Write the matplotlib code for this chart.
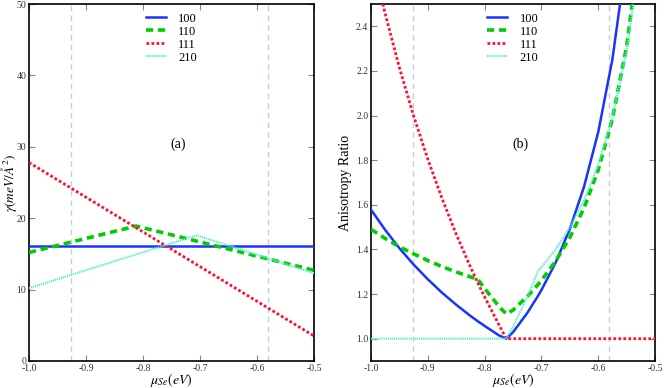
import numpy as np
import matplotlib
matplotlib.use('Agg')
import matplotlib.pyplot as plt

plt.rcParams['font.family'] = 'serif'
plt.rcParams['font.serif'] = ['Liberation Serif', 'DejaVu Serif']
plt.rcParams['mathtext.fontset'] = 'stix'

labels = ['100', '110', '111', '210']
colors = ['#1a33ff', '#00cc00', '#ff1030', '#55eec8']
styles = ['-', (0, (2.0, 1.3)), (0, (1.0, 0.8)), (0, (0.6, 0.4))]
widths = [1.8, 2.6, 2.0, 1.5]

# (a) surface energy vs chemical potential
mu_100 = [-1.0, -0.5]
g_100 = [16.1, 16.1]
mu_110 = [-1.0, -0.812, -0.5]
g_110 = [15.2, 18.9, 12.7]
mu_111 = [-1.0, -0.5]
g_111 = [27.8, 3.5]
mu_210 = [-1.0, -0.706, -0.5]
g_210 = [10.2, 17.6, 12.3]

# (b) anisotropy ratio
mu_b = [-1.0, -0.975, -0.95, -0.925, -0.9, -0.875, -0.85, -0.825, -0.812, -0.8,
        -0.775, -0.762, -0.75, -0.725, -0.706, -0.7, -0.675, -0.65, -0.625,
        -0.6, -0.575, -0.55, -0.525, -0.5]
r_100 = [1.578, 1.487, 1.405, 1.332, 1.266, 1.206, 1.152, 1.102, 1.078, 1.057,
         1.015, 1.0, 1.029, 1.115, 1.192, 1.218, 1.341, 1.492, 1.681,
         1.926, 2.253, 2.715, 3.41, 4.6]
r_110 = [1.490, 1.449, 1.412, 1.380, 1.350, 1.323, 1.299, 1.277, 1.266, 1.225,
         1.145, 1.111, 1.128, 1.189, 1.243, 1.261, 1.348, 1.453, 1.586,
         1.757, 1.986, 2.309, 2.799, 3.63]
r_111 = [2.725, 2.455, 2.214, 1.998, 1.804, 1.628, 1.468, 1.321, 1.250, 1.187,
         1.063, 1.0, 1.0, 1.0, 1.0, 1.0, 1.0, 1.0, 1.0,
         1.0, 1.0, 1.0, 1.0, 1.0]
r_210 = [1.0, 1.0, 1.0, 1.0, 1.0, 1.0, 1.0, 1.0, 1.0, 1.0,
         1.0, 1.0, 1.054, 1.186, 1.303, 1.320, 1.400, 1.498, 1.620,
         1.779, 1.991, 2.291, 2.745, 3.51]

vlines = [-0.927, -0.581]

fig = plt.figure(figsize=(6.65, 3.88), dpi=100)
ax1 = fig.add_axes([0.0436, 0.0696, 0.4286, 0.920])
ax2 = fig.add_axes([0.558, 0.0696, 0.427, 0.920])

curves_a = [(mu_100, g_100), (mu_110, g_110), (mu_111, g_111), (mu_210, g_210)]
curves_b = [(mu_b, r_100), (mu_b, r_110), (mu_b, r_111), (mu_b, r_210)]

for ax, curves in [(ax1, curves_a), (ax2, curves_b)]:
    for v in vlines:
        ax.axvline(v, color='#c5ced6', ls=(0, (4, 3)), lw=1.0, zorder=1)
    for (x, y), lab, c, s, w in zip(curves, labels, colors, styles, widths):
        ax.plot(x, y, color=c, ls=s, lw=w, label=lab, zorder=3)
    ax.set_xlim(-1.0, -0.5)
    ax.set_xticks(np.arange(-1.0, -0.49, 0.1))
    ax.xaxis.set_major_formatter(plt.FormatStrFormatter('%.1f'))
    ax.tick_params(direction='in', top=True, right=True, length=4, width=0.8,
                   color='#888888', labelsize=7, labelcolor='#333333', pad=2)
    for sp in ax.spines.values():
        sp.set_linewidth(1.2)
    ax.set_xlabel(r'$\mu_{Se}(eV)$', fontsize=10, labelpad=-1)
    leg = ax.legend(loc='upper center', bbox_to_anchor=(0.5, 1.0), frameon=False,
                    fontsize=9, handlelength=1.6, labelspacing=0.08, handletextpad=1.0,
                    borderaxespad=0.3)

ax1.set_ylim(0, 50)
ax1.set_yticks([0, 10, 20, 30, 40, 50])
ax1.set_ylabel(r'$\gamma(meV/\AA^2)$', fontsize=9.5)
ax1.yaxis.set_label_coords(-0.035, 0.5)
ax1.text(0.523, 0.608, '(a)', transform=ax1.transAxes, ha='center', va='center', fontsize=10)

ax2.set_ylim(0.9, 2.5)
ax2.set_yticks([1.0, 1.2, 1.4, 1.6, 1.8, 2.0, 2.2, 2.4])
ax2.yaxis.set_major_formatter(plt.FormatStrFormatter('%.1f'))
ax2.set_ylabel('Anisotropy Ratio', fontsize=10, labelpad=3)
ax2.text(0.525, 0.608, '(b)', transform=ax2.transAxes, ha='center', va='center', fontsize=10)

fig.savefig('out.png', dpi=100)
